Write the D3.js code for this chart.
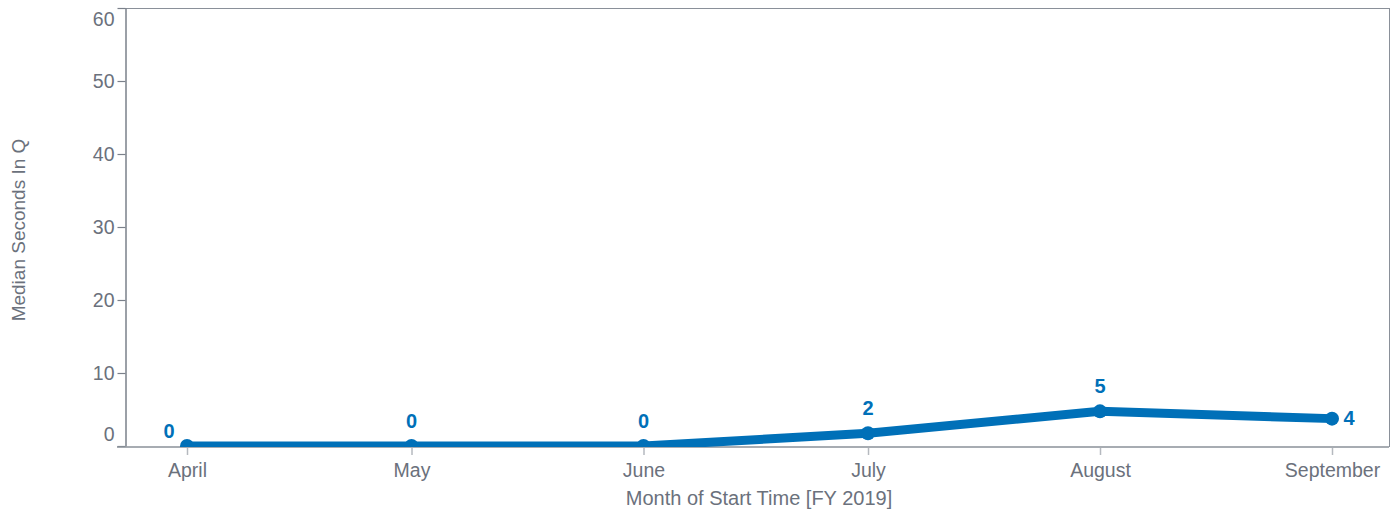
<!DOCTYPE html>
<html><head><meta charset="utf-8">
<script src="https://cdn.jsdelivr.net/npm/d3@7"></script>
<style>
html,body{margin:0;padding:0;background:#fff;}
svg{display:block;font-family:Arial,"Liberation Sans",sans-serif;}
</style></head>
<body>
<svg id="chart" width="1400" height="514"></svg>
<script>
const months = ["April","May","June","July","August","September"];
const monthDates = ["2019-04-01","2019-05-01","2019-06-01","2019-07-01","2019-08-01","2019-09-01"];
const values = [0, 0, 0, 1.74, 4.75, 3.75];
const labels = ["0","0","0","2","5","4"];
const yTicks = [0,10,20,30,40,50,60];

(function(){
const svg = d3.select("#chart");
const pLeft = 125, pRight = 1389, pTop = 8, pBottom = 446;
const parse = d3.utcParse("%Y-%m-%d");
const dates = monthDates.map(parse);

const x = d3.scaleUtc().domain([dates[0], dates[5]]).range([187, 1332]);
const y = d3.scaleLinear().domain([0, 60]).range([pBottom, pTop]);
const gray = "#6b717c", blue = "#0070b8";
const fs = 19.5;

svg.append("defs").append("clipPath").attr("id","plotclip").append("rect")
  .attr("x",pLeft).attr("y",0).attr("width",pRight-pLeft).attr("height",pBottom+1);

// frame
svg.append("line").attr("x1",pLeft).attr("x2",pRight).attr("y1",pTop+0.5).attr("y2",pTop+0.5).attr("stroke","#8a9099").attr("stroke-width",1);
svg.append("line").attr("x1",pRight+0.5).attr("x2",pRight+0.5).attr("y1",pTop).attr("y2",pBottom+1).attr("stroke","#8a9099").attr("stroke-width",1);

// y axis
const yAxis = svg.append("g").attr("transform",`translate(${pLeft+0.5},0)`)
  .call(d3.axisLeft(y).tickValues(yTicks).tickSize(8).tickSizeOuter(0));
yAxis.select(".domain").attr("stroke","#7a808a").attr("stroke-width",1.5);
yAxis.selectAll(".tick line").attr("stroke","#7a808a").attr("stroke-width",1.2);
yAxis.selectAll(".tick text").attr("fill",gray).attr("font-size",fs).attr("x",-11)
  .attr("font-family","Arial,'Liberation Sans',sans-serif")
  .attr("dy", d => d===60 ? "0.9em" : d===0 ? "-0.3em" : "0.35em");

// x axis
const xAxis = svg.append("g").attr("transform",`translate(0,${pBottom+1})`)
  .call(d3.axisBottom(x).tickValues(dates).tickFormat((d,i)=>months[i]).tickSize(8).tickSizeOuter(0));
xAxis.select(".domain").attr("d",`M${pLeft-8},0H${pRight}`).attr("stroke","#8a9099").attr("stroke-width",1.5);
xAxis.selectAll(".tick line").attr("stroke","#b5b9bf").attr("stroke-width",1.5).attr("y1",1);
xAxis.selectAll(".tick text").attr("fill",gray).attr("font-size",fs).attr("y",16)
  .attr("font-family","Arial,'Liberation Sans',sans-serif");

// axis titles
svg.append("text").attr("x",759).attr("y",505).attr("text-anchor","middle")
  .attr("fill",gray).attr("font-size",20).text("Month of Start Time [FY 2019]");
svg.append("text").attr("transform","translate(25,230) rotate(-90)").attr("text-anchor","middle")
  .attr("fill",gray).attr("font-size",19).text("Median Seconds In Q");

// line
const pts = dates.map((d,i)=>({d, v: values[i], l: labels[i], i}));
const plot = svg.append("g").attr("clip-path","url(#plotclip)");
plot.append("path").datum(pts)
  .attr("d", d3.line().x(p=>x(p.d)).y(p=>y(p.v)))
  .attr("fill","none").attr("stroke",blue).attr("stroke-width",9).attr("stroke-linejoin","round");
plot.selectAll("circle.pt").data(pts).join("circle").attr("class","pt")
  .attr("cx",p=>x(p.d)).attr("cy",p=>y(p.v)).attr("r",7).attr("fill",blue);

// labels
const last = pts.length-1;
svg.selectAll("text.lbl").data(pts).join("text").attr("class","lbl")
  .attr("x", p => p.i===0 ? x(p.d)-18 : p.i===last ? x(p.d)+17 : x(p.d))
  .attr("y", p => p.i===0 ? y(p.v)-8 : p.i===last ? y(p.v)+6 : y(p.v)-18)
  .attr("text-anchor","middle")
  .attr("fill",blue).attr("font-size",20).attr("font-weight","bold").text(p=>p.l);
})();
</script>
</body></html>
